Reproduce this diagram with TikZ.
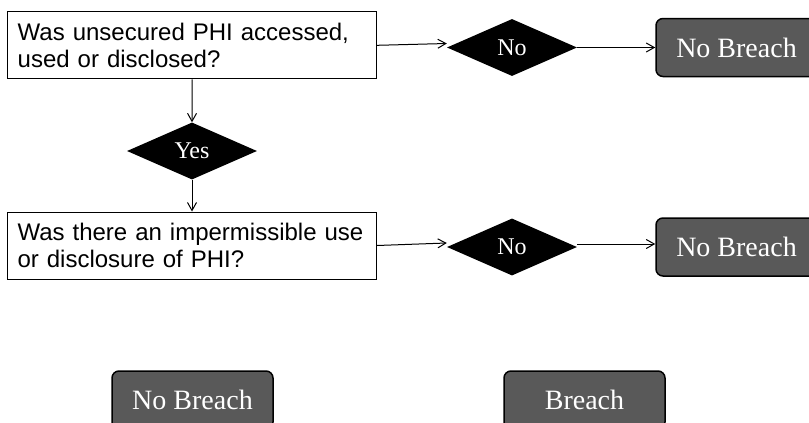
\documentclass[tikz,border=0pt]{standalone}
\usepackage{fontspec}
\setmainfont{Liberation Serif}
\newfontfamily\boxfont{Liberation Sans}
\usetikzlibrary{shapes.geometric,arrows.meta}
\definecolor{darkfill}{HTML}{595959}
\begin{document}
\begin{tikzpicture}[x=1pt,y=-1pt,
 qbox/.style={draw=black, line width=1pt, fill=white, rectangle, minimum width=369pt, minimum height=67pt, text width=349pt, inner xsep=10pt, align=left, font=\boxfont\fontsize{24}{27}\selectfont},
 decision/.style={diamond, fill=black, draw=none, minimum width=130pt, minimum height=57pt, inner sep=0pt, aspect=2.28, text=white, font=\fontsize{24}{28}\selectfont},
 outcome/.style={rectangle, rounded corners=7pt, draw=black, line width=1.5pt, fill=darkfill, minimum width=161pt, minimum height=58pt, text=white, font=\fontsize{28}{32}\selectfont},
 conn/.style={line width=1pt, -{Straight Barb[length=8pt,width=9pt]}}]
\clip (0,0) rectangle (809,423);
\node[qbox] (q1) at (192.2,45.3) {Was unsecured PHI accessed,\\used or disclosed?};
\node[qbox] (q2) at (192,245.5) {Was there an impermissible use\\or disclosure of PHI?};
\node[decision] (no1) at (512,47.5) {No};
\node[decision] (no2) at (512,247) {No};
\node[decision] (yes) at (192,151) {Yes};
\node[outcome] (nb1) at (736.5,47.5) {No Breach};
\node[outcome] (nb2) at (736.5,247) {No Breach};
\node[outcome] (nb3) at (192.5,400) {No Breach};
\node[outcome] (br) at (584.5,400) {Breach};
\draw[conn] (q1.east) -- ([yshift=4pt]no1.west);
\draw[conn] (no1.east) -- (nb1.west);
\draw[conn] (q2.east) -- ([yshift=4pt]no2.west);
\draw[conn] ([yshift=3pt]no2.east) -- ([yshift=3pt]nb2.west);
\draw[conn] (q1.south) -- (yes.north);
\draw[conn] (yes.south) -- (q2.north);
\end{tikzpicture}
\end{document}
